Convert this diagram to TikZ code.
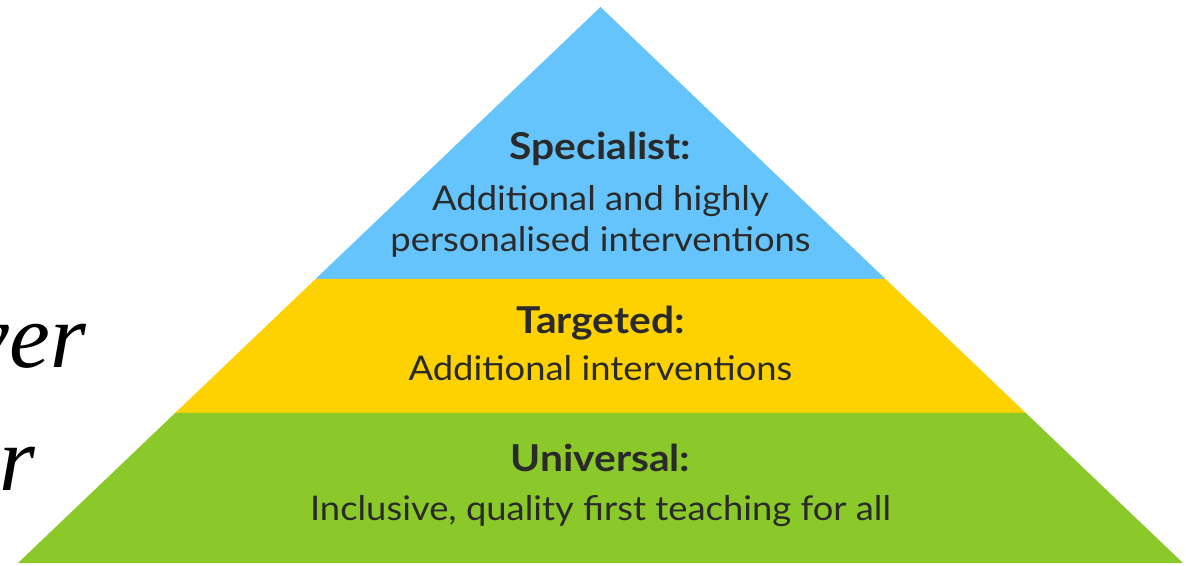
\documentclass[tikz,border=0pt]{standalone}
\usepackage{fontspec}
\setmainfont{Liberation Serif}
\newfontfamily\pyrfont[FakeStretch=1.07]{Lato}
\newfontfamily\pyrheadfont[FakeStretch=1.1]{Lato}
\usetikzlibrary{calc}
\definecolor{tierblue}{HTML}{66C4FC}
\definecolor{tieryellow}{HTML}{FDD200}
\definecolor{tiergreen}{HTML}{8BC92B}
\definecolor{tiertext}{HTML}{2A2A2A}
\begin{document}
\begin{tikzpicture}[x=1pt,y=-1pt,
  head/.style={anchor=base,inner sep=0pt,text=tiertext,font=\pyrheadfont\bfseries\fontsize{37}{42}\selectfont},
  body/.style={anchor=base,inner sep=0pt,text=tiertext,font=\pyrfont\fontsize{34}{40}\selectfont},
  side/.style={anchor=base east,inner sep=0pt,text=black,font=\itshape\fontsize{92}{100}\selectfont}]
\useasboundingbox (0,0) rectangle (1186,565);
\clip (0,0) rectangle (1186,565);
% pyramid corners
\coordinate (apex) at (600.5,7);
\coordinate (bl) at (18,563);
\coordinate (br) at (1183,563);
\coordinate (l1) at ($(apex)!0.4892!(bl)$);
\coordinate (r1) at ($(apex)!0.4892!(br)$);
\coordinate (l2) at ($(apex)!0.7302!(bl)$);
\coordinate (r2) at ($(apex)!0.7302!(br)$);
\fill[tierblue] (apex) -- (r1) -- (l1) -- cycle;
\fill[tieryellow] (l1) -- (r1) -- (r2) -- (l2) -- cycle;
\fill[tiergreen] (l2) -- (r2) -- (br) -- (bl) -- cycle;
% texts
\node[head] (spec) at (600.5,159) {Specialist:};
\node[body] (specA) at (600.5,210) {Additional and highly};
\node[body] (specB) at (600.5,251) {personalised interventions};
\node[head] (targ) at (600.5,333) {Targeted:};
\node[body] (targA) at (600.5,380) {Additional interventions};
\node[head] (univ) at (600.5,471) {Universal:};
\node[body] (univA) at (600.5,520) {Inclusive, quality first teaching for all};
% cropped side text
\node[side] (sideA) at (86,367) {ver};
\node[side] (sideB) at (36,490) {r};
\end{tikzpicture}
\end{document}
